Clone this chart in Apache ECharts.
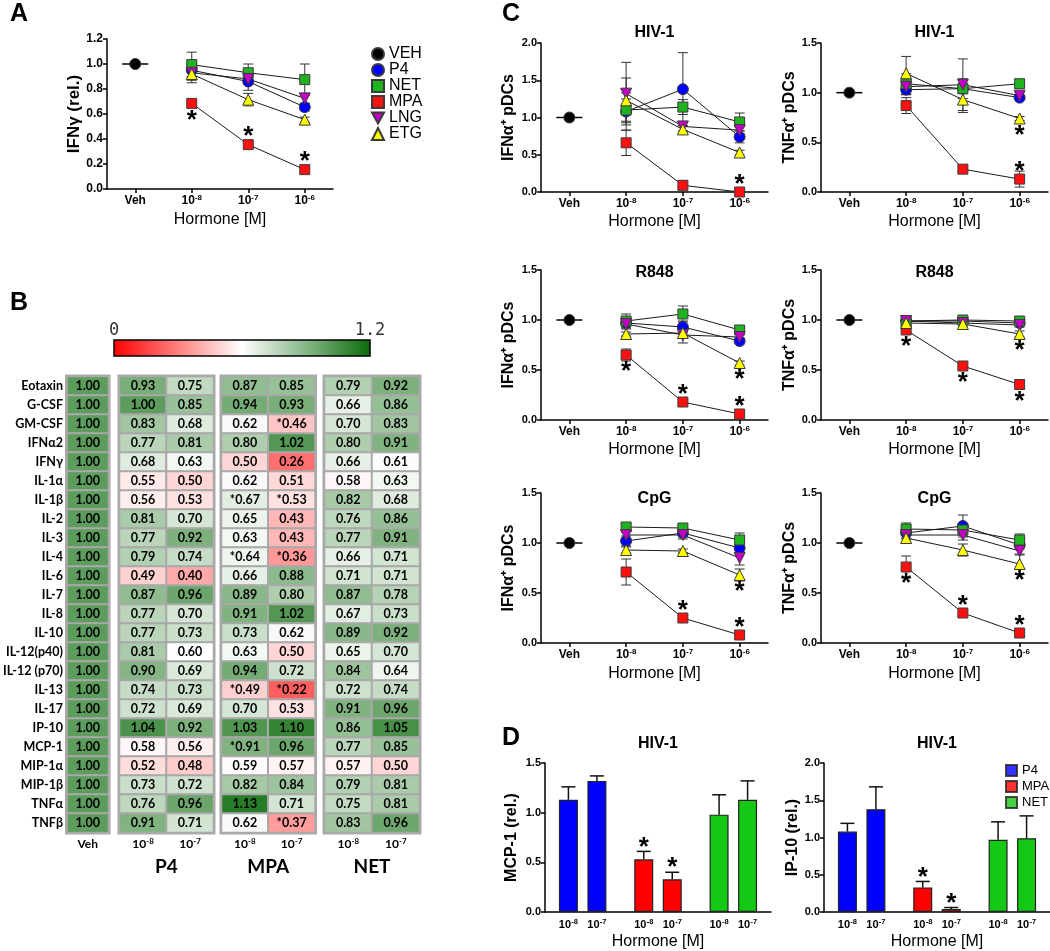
<!DOCTYPE html>
<html>
<head>
<meta charset="utf-8">
<title>Hormone effects on cytokines</title>
<script src="https://cdn.jsdelivr.net/npm/echarts@6.0.0/dist/echarts.min.js"></script>
<style>
html,body{margin:0;padding:0;background:#ffffff;}
#chart{width:1050px;height:951px;}
</style>
</head>
<body>
<div id="chart"></div>
<script>
// ======================= DATA =======================
const doseCats = ['Veh', '10⁻⁸', '10⁻⁷', '10⁻⁶'];
const legendNames = ['VEH', 'P4', 'NET', 'MPA', 'LNG', 'ETG'];

// ---- Panel A : IFNγ (rel.) ----
const A_VEH = 1.00;
const A_P4  = [0.95, 0.86, 0.655];  const A_P4_err  = [0.05, 0.07, 0.03];
const A_NET = [0.995, 0.93, 0.875]; const A_NET_err = [0.10, 0.07, 0.125];
const A_MPA = [0.685, 0.355, 0.155];const A_MPA_err = [0.03, 0.03, 0.02];
const A_LNG = [0.93, 0.88, 0.725];  const A_LNG_err = [0.06, 0.03, 0.04];
const A_ETG = [0.92, 0.715, 0.555]; const A_ETG_err = [0.07, 0.05, 0.02];
const A_stars = [['MPA', 1, 'below'], ['MPA', 2, 'above'], ['MPA', 3, 'above']];

// ---- Panel C1 : HIV-1, IFNα+ pDCs ----
const C1_VEH = 1.00;
const C1_P4  = [1.08, 1.38, 0.74]; const C1_P4_err  = [0.25, 0.49, 0.08];
const C1_NET = [1.10, 1.14, 0.94]; const C1_NET_err = [0.15, 0.10, 0.12];
const C1_MPA = [0.66, 0.09, 0.00]; const C1_MPA_err = [0.17, 0.06, 0.02];
const C1_LNG = [1.32, 0.88, 0.83]; const C1_LNG_err = [0.42, 0.06, 0.05];
const C1_ETG = [1.23, 0.84, 0.53]; const C1_ETG_err = [0.30, 0.05, 0.03];
const C1_stars = [['MPA', 3, 'above']];

// ---- Panel C2 : HIV-1, TNFα+ pDCs ----
const C2_VEH = 1.00;
const C2_P4  = [1.03, 1.04, 0.95];  const C2_P4_err  = [0.05, 0.05, 0.02];
const C2_NET = [1.09, 1.04, 1.09];  const C2_NET_err = [0.10, 0.10, 0.04];
const C2_MPA = [0.87, 0.23, 0.13];  const C2_MPA_err = [0.08, 0.03, 0.08];
const C2_LNG = [1.06, 1.08, 0.97];  const C2_LNG_err = [0.08, 0.26, 0.03];
const C2_ETG = [1.195, 0.93, 0.74]; const C2_ETG_err = [0.17, 0.13, 0.02];
const C2_stars = [['ETG', 3, 'below'], ['MPA', 3, 'above']];

// ---- Panel C3 : R848, IFNα+ pDCs ----
const C3_VEH = 1.00;
const C3_P4  = [0.97, 0.93, 0.79]; const C3_P4_err  = [0.04, 0.06, 0.03];
const C3_NET = [0.99, 1.06, 0.90]; const C3_NET_err = [0.07, 0.08, 0.03];
const C3_MPA = [0.65, 0.18, 0.06]; const C3_MPA_err = [0.06, 0.02, 0.02];
const C3_LNG = [0.96, 0.85, 0.83]; const C3_LNG_err = [0.05, 0.08, 0.03];
const C3_ETG = [0.86, 0.87, 0.57]; const C3_ETG_err = [0.02, 0.04, 0.02];
const C3_stars = [['MPA', 1, 'below'], ['MPA', 2, 'above'], ['ETG', 3, 'below'], ['MPA', 3, 'above']];

// ---- Panel C4 : R848, TNFα+ pDCs ----
const C4_VEH = 1.00;
const C4_P4  = [0.99, 0.99, 0.97];  const C4_P4_err  = [0.02, 0.02, 0.02];
const C4_NET = [0.99, 1.00, 0.99];  const C4_NET_err = [0.02, 0.02, 0.02];
const C4_MPA = [0.90, 0.54, 0.355]; const C4_MPA_err = [0.02, 0.02, 0.02];
const C4_LNG = [0.99, 0.97, 0.95];  const C4_LNG_err = [0.02, 0.02, 0.02];
const C4_ETG = [0.97, 0.96, 0.86];  const C4_ETG_err = [0.03, 0.03, 0.03];
const C4_stars = [['MPA', 1, 'below'], ['MPA', 2, 'below'], ['ETG', 3, 'below'], ['MPA', 3, 'below']];

// ---- Panel C5 : CpG, IFNα+ pDCs ----
const C5_VEH = 1.00;
const C5_P4  = [1.02, 1.10, 0.95]; const C5_P4_err  = [0.05, 0.04, 0.05];
const C5_NET = [1.16, 1.15, 1.03]; const C5_NET_err = [0.03, 0.03, 0.07];
const C5_MPA = [0.71, 0.25, 0.08]; const C5_MPA_err = [0.13, 0.02, 0.02];
const C5_LNG = [1.08, 1.08, 0.85]; const C5_LNG_err = [0.04, 0.04, 0.07];
const C5_ETG = [0.93, 0.92, 0.68]; const C5_ETG_err = [0.03, 0.02, 0.06];
const C5_stars = [['MPA', 2, 'above'], ['ETG', 3, 'below'], ['MPA', 3, 'above']];

// ---- Panel C6 : CpG, TNFα+ pDCs ----
const C6_VEH = 1.00;
const C6_P4  = [1.10, 1.17, 0.98]; const C6_P4_err  = [0.05, 0.11, 0.04];
const C6_NET = [1.14, 1.13, 1.03]; const C6_NET_err = [0.06, 0.05, 0.06];
const C6_MPA = [0.76, 0.30, 0.10]; const C6_MPA_err = [0.11, 0.02, 0.02];
const C6_LNG = [1.08, 1.08, 0.92]; const C6_LNG_err = [0.04, 0.05, 0.04];
const C6_ETG = [1.05, 0.93, 0.79]; const C6_ETG_err = [0.04, 0.06, 0.10];
const C6_stars = [['MPA', 1, 'below'], ['MPA', 2, 'above'], ['ETG', 3, 'below'], ['MPA', 3, 'above']];

// ---- Panel B : heat map ----
const cytokines = ['Eotaxin','G-CSF','GM-CSF','IFNα2','IFNγ','IL-1α','IL-1β','IL-2','IL-3','IL-4','IL-6','IL-7',
  'IL-8','IL-10','IL-12(p40)','IL-12 (p70)','IL-13','IL-17','IP-10','MCP-1','MIP-1α','MIP-1β','TNFα','TNFβ'];
const hmVeh   = [1.00,1.00,1.00,1.00,1.00,1.00,1.00,1.00,1.00,1.00,1.00,1.00,1.00,1.00,1.00,1.00,1.00,1.00,1.00,1.00,1.00,1.00,1.00,1.00];
const hmP4_8  = [0.93,1.00,0.83,0.77,0.68,0.55,0.56,0.81,0.77,0.79,0.49,0.87,0.77,0.77,0.81,0.90,0.74,0.72,1.04,0.58,0.52,0.73,0.76,0.91];
const hmP4_7  = [0.75,0.85,0.68,0.81,0.63,0.50,0.53,0.70,0.92,0.74,0.40,0.96,0.70,0.73,0.60,0.69,0.73,0.69,0.92,0.56,0.48,0.72,0.96,0.71];
const hmMPA_8 = [0.87,0.94,0.62,0.80,0.50,0.62,0.67,0.65,0.63,0.64,0.66,0.89,0.91,0.73,0.63,0.94,0.49,0.70,1.03,0.91,0.59,0.82,1.13,0.62];
const hmMPA_7 = [0.85,0.93,0.46,1.02,0.26,0.51,0.53,0.43,0.43,0.36,0.88,0.80,1.02,0.62,0.50,0.72,0.22,0.53,1.10,0.96,0.57,0.84,0.71,0.37];
const hmNET_8 = [0.79,0.66,0.70,0.80,0.66,0.58,0.82,0.76,0.77,0.66,0.71,0.87,0.67,0.89,0.65,0.84,0.72,0.91,0.86,0.77,0.57,0.79,0.75,0.83];
const hmNET_7 = [0.92,0.86,0.83,0.91,0.61,0.63,0.68,0.86,0.91,0.71,0.71,0.78,0.73,0.92,0.70,0.64,0.74,0.96,1.05,0.85,0.50,0.81,0.81,0.96];
const hmStarsMPA_8 = ['IL-1β','IL-4','IL-13','MCP-1'];
const hmStarsMPA_7 = ['GM-CSF','IL-1β','IL-4','IL-13','TNFβ'];
const hmVehCat = ['Veh'];
const hmDoses = ['10⁻⁸','10⁻⁷'];
const colorbarTicks = ['0', '1.2'];
const colorbarRange = [0, 1.2];

// ---- Panel D : bars ----
const D_groups = ['P4', 'MPA', 'NET'];
const D_doses = ['10⁻⁸', '10⁻⁷'];
const D1_P4  = [1.13, 1.32]; const D1_P4_err  = [0.13, 0.05];
const D1_MPA = [0.53, 0.33]; const D1_MPA_err = [0.08, 0.07];
const D1_NET = [0.98, 1.13]; const D1_NET_err = [0.20, 0.19];
const D1_stars = [['MPA', 0], ['MPA', 1]];
const D2_P4  = [1.08, 1.38]; const D2_P4_err  = [0.11, 0.30];
const D2_MPA = [0.33, 0.04]; const D2_MPA_err = [0.08, 0.02];
const D2_NET = [0.97, 0.99]; const D2_NET_err = [0.24, 0.30];
const D2_stars = [['MPA', 0], ['MPA', 1]];

// ======================= STYLE / BUILD =======================
const FONT = '"Liberation Sans", Arial, Helvetica, sans-serif';
const HFONT = 'Lato, "Open Sans", "Liberation Sans", sans-serif';
const COLORS = {VEH:'#000000', P4:'#0000ff', NET:'#1fb41f', MPA:'#ff1010', LNG:'#c400c4', ETG:'#ffff00'};
const DCOLORS = {P4:'#0000ff', MPA:'#ff0000', NET:'#14c814'};
const SYMBOL = {VEH:'circle', P4:'circle', NET:'rect', MPA:'rect', LNG:'triangle', ETG:'triangle'};
const SYMSIZE = {VEH:11, P4:11, NET:10, MPA:10, LNG:11, ETG:11};
const HORM = ['P4','NET','MPA','LNG','ETG'];
const SUPMAP = {'⁻':'-', '⁰':'0', '¹':'1', '²':'2', '³':'3', '⁴':'4', '⁵':'5', '⁶':'6', '⁷':'7', '⁸':'8', '⁹':'9'};

// "10⁻⁸" -> rich text "{b|10}{s|-8}"
function supRich(str, bKey, sKey) {
  let base = '', sup = '';
  for (const ch of str) { if (SUPMAP[ch] !== undefined) sup += SUPMAP[ch]; else base += ch; }
  return '{' + bKey + '|' + base + '}' + (sup ? '{' + sKey + '|' + sup + '}' : '');
}

const grid = [], xAxis = [], yAxis = [], series = [], graphic = [];
const heatIdx = [];

function axisLineStyle() { return {show:true, onZero:false, lineStyle:{color:'#000', width:1.5}}; }
function textG(text, x, y, font, fill) {
  return {type:'text', x:x, y:y, silent:true,
    style:{text:text, fill:fill || '#000', font:font, align:'center', verticalAlign:'middle'}};
}

function errRender(params, api) {
  const c = api.value(0), v = api.value(1), e = api.value(2);
  const top = api.coord([c, v + e]), bot = api.coord([c, Math.max(0, v - e)]);
  const x = top[0], w = 5;
  const mk = (x1,y1,x2,y2) => ({type:'line', shape:{x1,y1,x2,y2}, style:{stroke:'#333', lineWidth:1}});
  return {type:'group', children:[mk(x, top[1], x, bot[1]), mk(x-w, top[1], x+w, top[1]), mk(x-w, bot[1], x+w, bot[1])]};
}
function vehRender(params, api) {
  const p = api.coord([api.value(0), api.value(1)]);
  return {type:'line', shape:{x1:p[0]-13, y1:p[1], x2:p[0]+13, y2:p[1]}, style:{stroke:'#000', lineWidth:1.5}};
}
function starRender(params, api) {
  const p = api.coord([api.value(0), api.value(1)]);
  const below = api.value(2) > 0;
  return {type:'text', x:p[0], y:p[1] + (below ? 17 : -7.5),
    style:{text:'*', fill:'#000', font:'bold 26px ' + FONT, align:'center', verticalAlign:'middle'}};
}

function lineSeries(name, gi, data) {
  return {type:'line', name:name, xAxisIndex:gi, yAxisIndex:gi, data:data, silent:true, z:3,
    symbol:SYMBOL[name], symbolSize:SYMSIZE[name], symbolRotate: name === 'LNG' ? 180 : 0,
    connectNulls:false, showSymbol:true,
    itemStyle:{color:COLORS[name], borderColor:'#3a3a3a', borderWidth:1},
    lineStyle:{color:'#1a1a1a', width:1}, emphasis:{disabled:true}};
}

const plotRich = {
  b:{fontFamily:FONT, fontWeight:'bold', fontSize:12, lineHeight:14, color:'#000'},
  s:{fontFamily:FONT, fontWeight:'bold', fontSize:8, lineHeight:8, verticalAlign:'top', color:'#000'}
};

function addLinePanel(p) {
  const gi = grid.length;
  grid.push({left:p.left, top:p.top, width:p.width, height:p.height});
  xAxis.push({gridIndex:gi, type:'category', data:doseCats, boundaryGap:true,
    axisLine:axisLineStyle(), axisTick:{show:true, alignWithLabel:true, length:4, lineStyle:{color:'#000', width:1.5}},
    axisLabel:{margin:5, interval:0, formatter:v => supRich(v, 'b', 's'), rich:plotRich},
    splitLine:{show:false},
    name:'Hormone [M]', nameLocation:'middle', nameGap:p.xGap || 22,
    nameTextStyle:{color:'#000', fontFamily:FONT, fontSize:16}});
  yAxis.push({gridIndex:gi, type:'value', min:0, max:p.ymax, interval:p.interval,
    axisLine:axisLineStyle(), axisTick:{show:true, length:4, lineStyle:{color:'#000', width:1.5}},
    axisLabel:{color:'#000', fontFamily:FONT, fontWeight:'bold', fontSize:p.yfs || 11, margin:4, formatter:v => v.toFixed(1)},
    splitLine:{show:false},
    name:p.yname, nameLocation:'middle', nameGap:p.yGap,
    nameTextStyle:{color:'#000', fontFamily:FONT, fontSize:p.ynfs || 16, fontWeight:'bold'}});
  const errData = [];
  HORM.forEach(h => p.data[h].forEach((v, i) => errData.push([i + 1, v, p.err[h][i]])));
  series.push({type:'custom', xAxisIndex:gi, yAxisIndex:gi, silent:true, z:1, data:errData, renderItem:errRender});
  series.push({type:'custom', xAxisIndex:gi, yAxisIndex:gi, silent:true, z:1, data:[[0, p.veh]], renderItem:vehRender});
  series.push(lineSeries('VEH', gi, [p.veh, null, null, null]));
  HORM.forEach(h => series.push(lineSeries(h, gi, [null].concat(p.data[h]))));
  series.push({type:'custom', xAxisIndex:gi, yAxisIndex:gi, silent:true, z:4, renderItem:starRender,
    data:p.stars.map(s => [s[1], p.data[s[0]][s[1] - 1], s[2] === 'below' ? 1 : -1])});
  if (p.title) graphic.push(textG(p.title, p.left + p.width / 2, p.titleY, 'bold 16px ' + FONT));
}

const heatRich = {
  b:{fontFamily:HFONT, fontWeight:'bold', fontSize:12, lineHeight:14, color:'#000'},
  s:{fontFamily:HFONT, fontWeight:'bold', fontSize:8, lineHeight:8, verticalAlign:'top', color:'#000'}
};

function addHeatGroup(left, width, cats, cols, groupName, starsList, showY) {
  const gi = grid.length;
  grid.push({left:left, top:376.5, width:width, height:456, show:true, borderColor:'#a9a9a9', borderWidth:4,
    backgroundColor:'rgba(0,0,0,0)'});
  xAxis.push({gridIndex:gi, type:'category', data:cats, position:'bottom', axisLine:{show:false}, axisTick:{show:false},
    splitLine:{show:false},
    axisLabel:{margin:5, interval:0, formatter:v => supRich(v, 'b', 's'), rich:heatRich},
    name:groupName, nameLocation:'middle', nameGap:25,
    nameTextStyle:{color:'#000', fontFamily:HFONT, fontWeight:'bold', fontSize:19}});
  yAxis.push({gridIndex:gi, type:'category', data:cytokines, inverse:true, axisLine:{show:false}, axisTick:{show:false},
    splitLine:{show:false},
    axisLabel:{show:showY, color:'#000', fontFamily:HFONT, fontWeight:'bold', fontSize:12.5, margin:4, interval:0}});
  const data = [];
  cols.forEach((col, ci) => col.forEach((v, r) => data.push({value:[ci, r, v], star:starsList[ci].includes(cytokines[r])})));
  heatIdx.push(series.length);
  series.push({type:'heatmap', xAxisIndex:gi, yAxisIndex:gi, data:data, silent:true,
    itemStyle:{borderColor:'#a9a9a9', borderWidth:2}, emphasis:{disabled:true},
    label:{show:true, color:'#000', fontFamily:HFONT, fontWeight:'bold', fontSize:12.5,
      formatter:p => (p.data.star ? '*' : '') + p.value[2].toFixed(2)}});
}

const BAR_W = 19, BAR_HALF = 14.25;
function barErrRender(params, api) {
  const g = api.value(0), d = api.value(1), v = api.value(2), e = api.value(3), star = api.value(4);
  const base = api.coord([g, v]), top = api.coord([g, v + e]);
  const x = base[0] + (d === 0 ? -BAR_HALF : BAR_HALF);
  const kids = [
    {type:'line', shape:{x1:x, y1:base[1], x2:x, y2:top[1]}, style:{stroke:'#111', lineWidth:1.5}},
    {type:'line', shape:{x1:x - 7, y1:top[1], x2:x + 7, y2:top[1]}, style:{stroke:'#111', lineWidth:1.5}}];
  if (star) kids.push({type:'text', x:x, y:top[1] - 4,
    style:{text:'*', fill:'#000', font:'bold 26px ' + FONT, align:'center', verticalAlign:'middle'}});
  return {type:'group', children:kids};
}

const barRich = {
  b:{fontFamily:FONT, fontWeight:'bold', fontSize:11, lineHeight:13, color:'#000', width:12.5, align:'right'},
  s:{fontFamily:FONT, fontWeight:'bold', fontSize:7.5, lineHeight:8, verticalAlign:'top', color:'#000', width:7, align:'left'},
  g:{width:9}
};

function addBarPanel(p) {
  const gi = grid.length;
  grid.push({left:p.left, top:p.top, width:p.width, height:p.height});
  xAxis.push({gridIndex:gi, type:'category', data:D_groups, boundaryGap:true,
    axisLine:axisLineStyle(), axisTick:{show:false}, splitLine:{show:false},
    axisLabel:{interval:0, margin:6, formatter:() => D_doses.map(d => supRich(d, 'b', 's')).join('{g| }'), rich:barRich},
    name:'Hormone [M]', nameLocation:'middle', nameGap:22,
    nameTextStyle:{color:'#000', fontFamily:FONT, fontSize:16}});
  yAxis.push({gridIndex:gi, type:'value', min:0, max:p.ymax, interval:0.5,
    axisLine:axisLineStyle(), axisTick:{show:true, length:4, lineStyle:{color:'#000', width:1.5}},
    axisLabel:{color:'#000', fontFamily:FONT, fontWeight:'bold', fontSize:11, margin:4, formatter:v => v.toFixed(1)},
    splitLine:{show:false},
    name:p.yname, nameLocation:'middle', nameGap:p.yGap,
    nameTextStyle:{color:'#000', fontFamily:FONT, fontSize:16, fontWeight:'bold'}});
  D_doses.forEach((dose, d) => {
    series.push({type:'bar', name:dose, xAxisIndex:gi, yAxisIndex:gi, silent:true, z:2,
      barWidth:BAR_W, barGap:'50%',
      itemStyle:{borderColor:'#222', borderWidth:1.2},
      data:D_groups.map(g => ({value:p.data[g][d], itemStyle:{color:DCOLORS[g]}}))});
  });
  const errData = [];
  D_groups.forEach((g, gIdx) => D_doses.forEach((dose, d) => {
    const st = p.stars.some(s => s[0] === g && s[1] === d) ? 1 : 0;
    errData.push([gIdx, d, p.data[g][d], p.err[g][d], st]);
  }));
  series.push({type:'custom', xAxisIndex:gi, yAxisIndex:gi, silent:true, z:3, data:errData,
    encode:{x:0, y:2}, renderItem:barErrRender});
  graphic.push(textG(p.title, p.left + p.width / 2, p.titleY, 'bold 16px ' + FONT));
  return gi;
}

// ---- Panel A ----
addLinePanel({left:107, top:39, width:226, height:150, ymax:1.2, interval:0.2, yfs:12,
  yname:'IFNγ (rel.)', yGap:21, ynfs:17, xGap:23, veh:A_VEH,
  data:{P4:A_P4, NET:A_NET, MPA:A_MPA, LNG:A_LNG, ETG:A_ETG},
  err:{P4:A_P4_err, NET:A_NET_err, MPA:A_MPA_err, LNG:A_LNG_err, ETG:A_ETG_err}, stars:A_stars});

// ---- Panel C ----
const CL = 541, CR = 821, CW = 227;
addLinePanel({left:CL, top:43, width:CW, height:149, ymax:2.0, interval:0.5, yname:'IFNα⁺ pDCs', yGap:24,
  title:'HIV-1', titleY:33, veh:C1_VEH,
  data:{P4:C1_P4, NET:C1_NET, MPA:C1_MPA, LNG:C1_LNG, ETG:C1_ETG},
  err:{P4:C1_P4_err, NET:C1_NET_err, MPA:C1_MPA_err, LNG:C1_LNG_err, ETG:C1_ETG_err}, stars:C1_stars});
addLinePanel({left:CR, top:43, width:CW, height:149, ymax:1.5, interval:0.5, yname:'TNFα⁺ pDCs', yGap:23,
  title:'HIV-1', titleY:33, veh:C2_VEH,
  data:{P4:C2_P4, NET:C2_NET, MPA:C2_MPA, LNG:C2_LNG, ETG:C2_ETG},
  err:{P4:C2_P4_err, NET:C2_NET_err, MPA:C2_MPA_err, LNG:C2_LNG_err, ETG:C2_ETG_err}, stars:C2_stars});
addLinePanel({left:CL, top:270, width:CW, height:150, ymax:1.5, interval:0.5, yname:'IFNα⁺ pDCs', yGap:24,
  title:'R848', titleY:273, veh:C3_VEH,
  data:{P4:C3_P4, NET:C3_NET, MPA:C3_MPA, LNG:C3_LNG, ETG:C3_ETG},
  err:{P4:C3_P4_err, NET:C3_NET_err, MPA:C3_MPA_err, LNG:C3_LNG_err, ETG:C3_ETG_err}, stars:C3_stars});
addLinePanel({left:CR, top:270, width:CW, height:150, ymax:1.5, interval:0.5, yname:'TNFα⁺ pDCs', yGap:23,
  title:'R848', titleY:273, veh:C4_VEH,
  data:{P4:C4_P4, NET:C4_NET, MPA:C4_MPA, LNG:C4_LNG, ETG:C4_ETG},
  err:{P4:C4_P4_err, NET:C4_NET_err, MPA:C4_MPA_err, LNG:C4_LNG_err, ETG:C4_ETG_err}, stars:C4_stars});
addLinePanel({left:CL, top:493, width:CW, height:150, ymax:1.5, interval:0.5, yname:'IFNα⁺ pDCs', yGap:24,
  title:'CpG', titleY:499, veh:C5_VEH, xGap:23,
  data:{P4:C5_P4, NET:C5_NET, MPA:C5_MPA, LNG:C5_LNG, ETG:C5_ETG},
  err:{P4:C5_P4_err, NET:C5_NET_err, MPA:C5_MPA_err, LNG:C5_LNG_err, ETG:C5_ETG_err}, stars:C5_stars});
addLinePanel({left:CR, top:493, width:CW, height:150, ymax:1.5, interval:0.5, yname:'TNFα⁺ pDCs', yGap:23,
  title:'CpG', titleY:499, veh:C6_VEH, xGap:23,
  data:{P4:C6_P4, NET:C6_NET, MPA:C6_MPA, LNG:C6_LNG, ETG:C6_ETG},
  err:{P4:C6_P4_err, NET:C6_NET_err, MPA:C6_MPA_err, LNG:C6_LNG_err, ETG:C6_ETG_err}, stars:C6_stars});

// ---- Panel B ----
addHeatGroup(64, 44.5, hmVehCat, [hmVeh], '', [[]], true);
addHeatGroup(119.5, 94, hmDoses, [hmP4_8, hmP4_7], 'P4', [[], []], false);
addHeatGroup(221.5, 93.5, hmDoses, [hmMPA_8, hmMPA_7], 'MPA', [hmStarsMPA_8, hmStarsMPA_7], false);
addHeatGroup(324.5, 95, hmDoses, [hmNET_8, hmNET_7], 'NET', [[], []], false);

// ---- Panel D ----
const dGrid = addBarPanel({left:545, top:763, width:226, height:150, ymax:1.5, yname:'MCP-1 (rel.)', yGap:25,
  title:'HIV-1', titleY:744,
  data:{P4:D1_P4, MPA:D1_MPA, NET:D1_NET}, err:{P4:D1_P4_err, MPA:D1_MPA_err, NET:D1_NET_err}, stars:D1_stars});
addBarPanel({left:824, top:763, width:226, height:150, ymax:2.0, yname:'IP-10 (rel.)', yGap:22,
  title:'HIV-1', titleY:744,
  data:{P4:D2_P4, MPA:D2_MPA, NET:D2_NET}, err:{P4:D2_P4_err, MPA:D2_MPA_err, NET:D2_NET_err}, stars:D2_stars});
D_groups.forEach(g => series.push({type:'scatter', name:'D-' + g, xAxisIndex:dGrid, yAxisIndex:dGrid, data:[],
  itemStyle:{color:DCOLORS[g], borderColor:'#222', borderWidth:1}}));

// ---- colour bar & panel letters ----
graphic.push({type:'rect', silent:true, shape:{x:114, y:340, width:256, height:16},
  style:{fill:new echarts.graphic.LinearGradient(0, 0, 1, 0, [
    {offset:0, color:'#ff0000'}, {offset:0.5, color:'#ffffff'}, {offset:1, color:'#0b6b0b'}]),
    stroke:'#000', lineWidth:1.5}});
graphic.push(textG(colorbarTicks[0], 114, 331, '17px "DejaVu Sans Mono", monospace', '#333'));
graphic.push(textG(colorbarTicks[1], 370, 331, '17px "DejaVu Sans Mono", monospace', '#333'));
graphic.push(textG('A', 19, 14, 'bold 25px ' + FONT));
graphic.push(textG('B', 19, 303, 'bold 25px ' + FONT));
graphic.push(textG('C', 511, 14, 'bold 25px ' + FONT));
graphic.push(textG('D', 511, 738, 'bold 25px ' + FONT));

const option = {
  backgroundColor:'#ffffff',
  animation:false,
  grid:grid, xAxis:xAxis, yAxis:yAxis, series:series, graphic:graphic,
  visualMap:{type:'continuous', show:false, min:colorbarRange[0], max:colorbarRange[1], dimension:2, seriesIndex:heatIdx,
    inRange:{color:['#ff0000', '#ffffff', '#0b6b0b']}},
  legend:[{
    data:legendNames.map(n => ({name:n, icon: n === 'LNG' ? 'path://M0,0L10,0L5,9Z' : (SYMBOL[n] === 'rect' ? 'rect' : SYMBOL[n])})),
    orient:'vertical', left:366, top:41, itemWidth:12, itemHeight:12, itemGap:0, selectedMode:false,
    textStyle:{color:'#000', fontFamily:FONT, fontSize:16, lineHeight:16}
  }, {
    data:D_groups.map(g => ({name:'D-' + g, icon:'rect'})),
    orient:'vertical', left:1000, top:759, itemWidth:11, itemHeight:11, itemGap:3, selectedMode:false,
    formatter:n => n.slice(2),
    textStyle:{color:'#000', fontFamily:FONT, fontSize:13}
  }]
};

const chart = echarts.init(document.getElementById('chart'), null, {renderer:'canvas'});
chart.setOption(option);
</script>
</body>
</html>
